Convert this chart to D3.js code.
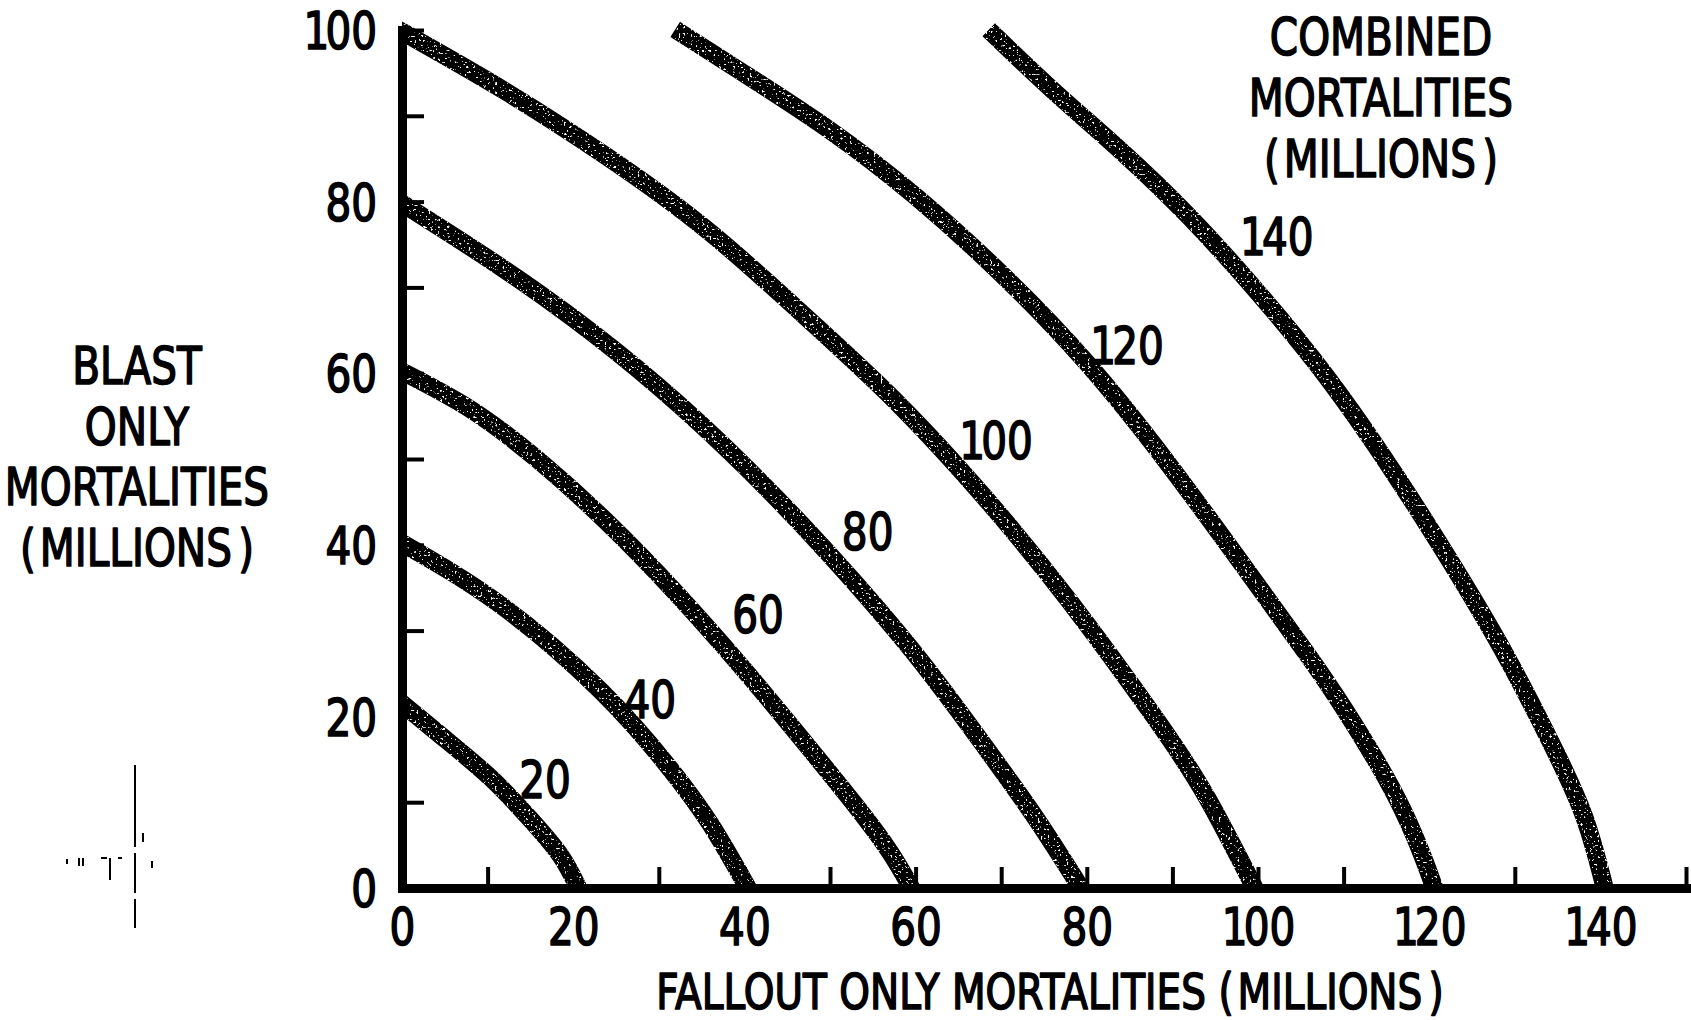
<!DOCTYPE html>
<html>
<head>
<meta charset="utf-8">
<script src="https://cdn.jsdelivr.net/npm/d3@7"></script>
<style>
  html, body { margin: 0; padding: 0; background: #fff; }
  svg { display: block; }
</style>
</head>
<body>
<svg id="chart" width="1691" height="1020"></svg>
<script>
// Contours of equal combined mortality (millions): each point is
// [fallout-only mortalities, blast-only mortalities] in millions.
const combinedLevels = [20, 40, 60, 80, 100, 120, 140];

const contour20 = [[0, 21.5], [5, 17.4], [10.5, 12.7], [15, 8.0], [18.5, 3.8], [20.6, 0]];
const contour40 = [[0, 40.2], [11.5, 33.0], [23.2, 23.0], [31, 14.3], [36, 7.5], [40.4, 0]];
const contour60 = [[0, 60.2], [8, 55.8], [16, 49.8], [24, 42.6], [32, 34.4], [40, 25.4], [47, 17], [53, 9.6], [57, 4.2], [59.5, 0]];
const contour80 = [[0, 79.8], [10, 73.4], [20, 66.4], [30, 58.4], [40, 49.2], [50, 38.8], [60, 27.2], [68, 16.6], [74, 8.2], [79.3, 0]];
const contour100 = [[0, 99.8], [12, 92.9], [24, 85.2], [36, 76.4], [48, 65.8], [58, 56.4], [68, 45.6], [78, 33.4], [88, 19.8], [94, 10.6], [99.6, 0]];
const contour120 = [[32.8, 99.5], [40, 94.9], [50, 88.3], [60, 80.6], [70, 71.6], [80, 61.2], [90, 48.8], [100, 35.2], [106, 26.9], [110, 21], [114, 14.5], [117, 8.9], [119.2, 3.8], [120.6, 0]];
const contour140 = [[69.3, 99.3], [76, 93.0], [84, 85.9], [92, 78.2], [100, 69.4], [108, 59.6], [116, 48.2], [123, 37.2], [129, 27], [134, 17.4], [138, 8.6], [140.5, 0]];

const contours = [contour20, contour40, contour60, contour80, contour100, contour120, contour140];

// Where each contour's value is written (data units, beside its curve)
const levelLabelAt = [[16.7, 12.7], [29.0, 22.0], [41.6, 31.9], [54.4, 41.6], [69.4, 52.2], [84.7, 63.2], [102.2, 76.0]];

// Axes
const xTickMarks = [0, 10, 20, 30, 40, 50, 60, 70, 80, 90, 100, 110, 120, 130, 140, 150];
const xTickLabels = [0, 20, 40, 60, 80, 100, 120, 140];
const yTickMarks = [0, 10, 20, 30, 40, 50, 60, 70, 80, 90, 100];
const yTickLabels = [0, 20, 40, 60, 80, 100];

const xTitle = "FALLOUT ONLY MORTALITIES (MILLIONS)";
const yTitleLines = ["BLAST", "ONLY", "MORTALITIES", "(MILLIONS)"];
const keyTitleLines = ["COMBINED", "MORTALITIES", "(MILLIONS)"];

// ---------------------------------------------------------------
const svg = d3.select("#chart");
const FONT = "'DejaVu Sans', 'Liberation Sans', sans-serif";
const SX = 0.78;           // narrow hand-lettered look
const INK = 1.7;           // extra stroke on the lettering

const x = d3.scaleLinear().domain([0, 150]).range([402, 1686]);
const y = d3.scaleLinear().domain([0, 100]).range([888, 30]);

// Speckled ink texture for the heavy contour strokes
const defs = svg.append("defs");
const grain = defs.append("filter").attr("id", "grain")
  .attr("x", "-5%").attr("y", "-5%").attr("width", "110%").attr("height", "110%");
grain.append("feTurbulence").attr("type", "fractalNoise")
  .attr("baseFrequency", "0.42").attr("numOctaves", 2).attr("seed", 11).attr("result", "n");
grain.append("feColorMatrix").attr("in", "n").attr("type", "matrix")
  .attr("values", "0 0 0 0 1  0 0 0 0 1  0 0 0 0 1  12 0 0 0 -7.9").attr("result", "w");
grain.append("feComposite").attr("in", "w").attr("in2", "SourceAlpha").attr("operator", "in").attr("result", "wi");
const merge = grain.append("feMerge");
merge.append("feMergeNode").attr("in", "SourceGraphic");
merge.append("feMergeNode").attr("in", "wi");

defs.append("clipPath").attr("id", "plotClip")
  .append("rect")
  .attr("x", x(0)).attr("y", 0)
  .attr("width", x(150) - x(0) + 10).attr("height", y(0));

// Contours
const line = d3.line()
  .x(d => x(d[0]))
  .y(d => y(d[1]))
  .curve(d3.curveNatural);

svg.append("g").attr("clip-path", "url(#plotClip)")
  .append("g").attr("filter", "url(#grain)")
  .selectAll("path")
  .data(contours)
  .join("path")
  .attr("d", line)
  .attr("fill", "none")
  .attr("stroke", "#000")
  .attr("stroke-width", 18)
  .attr("stroke-linecap", "square");

// Per-character spacing, like hand lettering: a "1" sits tight against
// what follows, parentheses get a little air.
function letterGaps(str) {
  const chars = Array.from(str);
  return chars.map((c, i) => {
    const prev = i > 0 ? chars[i - 1] : "";
    let dx = 0;
    if (prev === "1") dx -= 5;
    if (prev === "(") dx += 5;
    if (c === ")") dx += 8;
    return dx;
  }).join(" ");
}

function inkStyle(sel, size) {
  return sel.attr("font-family", FONT)
    .attr("font-size", size)
    .attr("fill", "#000")
    .attr("stroke", "#000")
    .attr("stroke-width", INK)
    .attr("stroke-linejoin", "round");
}

// Text helper: horizontally condensed lettering
function letter(g, str, px, py, size, anchor, dy) {
  const t = g.append("text")
    .attr("transform", `translate(${px},${py}) scale(${SX},1)`)
    .attr("text-anchor", anchor)
    .attr("dy", dy || 0)
    .attr("dx", letterGaps(str))
    .text(str);
  inkStyle(t, size);
  return t;
}

// Axis lines and tick marks (ticks point into the plot)
const xAxis = svg.append("g")
  .attr("transform", `translate(0,${y(0)})`)
  .call(d3.axisBottom(x).tickValues(xTickMarks).tickSize(-21).tickSizeOuter(0).tickFormat(() => ""));
const yAxis = svg.append("g")
  .attr("transform", `translate(${x(0)},0)`)
  .call(d3.axisLeft(y).tickValues(yTickMarks).tickSize(-22).tickSizeOuter(0).tickFormat(() => ""));

[xAxis, yAxis].forEach(a => {
  a.select(".domain").attr("stroke", "#000").attr("stroke-width", 9).attr("stroke-linecap", "square");
  a.selectAll(".tick line").attr("stroke", "#000").attr("stroke-width", 4);
});

// Tick labels
const xLab = svg.append("g")
  .attr("transform", `translate(0,${y(0)})`)
  .call(d3.axisBottom(x).tickValues(xTickLabels).tickSize(0).tickPadding(20));
xLab.select(".domain").remove();
xLab.selectAll("text").each(function (d) {
  const t = d3.select(this)
    .attr("transform", `scale(${SX},1)`)
    .attr("dx", letterGaps(String(d)));
  inkStyle(t, 52);
});

const yLab = svg.append("g")
  .attr("transform", `translate(${x(0)},0)`)
  .call(d3.axisLeft(y).tickValues(yTickLabels).tickSize(0).tickPadding(25));
yLab.select(".domain").remove();
yLab.selectAll("text").each(function (d) {
  const t = d3.select(this)
    .attr("x", -25 / SX).attr("dy", "0.36em")
    .attr("transform", `scale(${SX},1)`)
    .attr("dx", letterGaps(String(d)));
  inkStyle(t, 52);
});

// Contour value labels
const lab = svg.append("g");
combinedLevels.forEach((v, i) => {
  const p = levelLabelAt[i];
  letter(lab, String(v), x(p[0]), y(p[1]), 52, "middle", "0.36em");
});

// Titles
const titles = svg.append("g");
letter(titles, xTitle, 1050, 1009, 50, "middle");
yTitleLines.forEach((t, i) => letter(titles, t, 137, 384 + i * 60.7, 52, "middle"));
keyTitleLines.forEach((t, i) => letter(titles, t, 1381, 55 + i * 61, 52, "middle"));

// Small registration marks in the lower left margin
const marks = svg.append("g").attr("stroke", "#000").attr("stroke-width", 2).attr("fill", "none");
marks.append("path").attr("d", "M135,765V847M135,853V893M135,899V928");
marks.append("path").attr("d", "M143,833V842M152,861V868M67,859V864M79,858V866M83,858V866M101,858H107M110,858V880M118,858H122");
</script>
</body>
</html>
